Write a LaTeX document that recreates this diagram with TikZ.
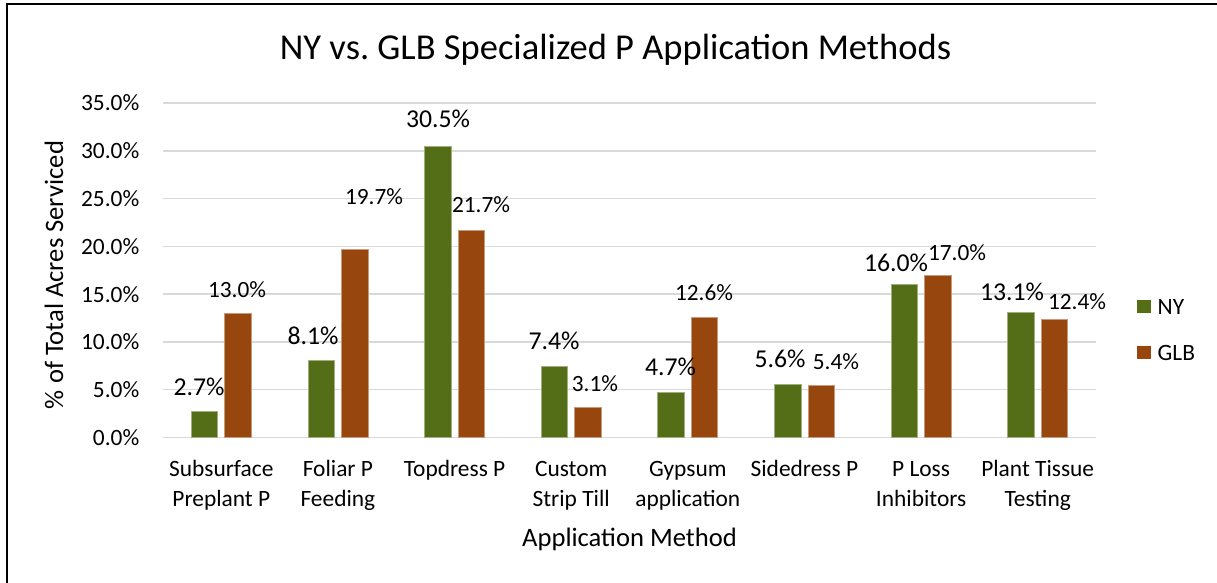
\documentclass[tikz,border=0pt]{standalone}
\usepackage{fontspec}
\setmainfont{Carlito}
\frenchspacing
\definecolor{nygreen}{RGB}{84,109,23}
\definecolor{glbbrown}{RGB}{151,71,13}
\definecolor{gridgray}{RGB}{217,217,217}
\tikzset{
  gridline/.style={draw=gridgray, line width=1.5pt},
  nybar/.style={fill=nygreen, draw=nygreen!55!white, line width=0.8pt},
  glbbar/.style={fill=glbbrown, draw=glbbrown!55!white, line width=0.8pt},
  ticklabel/.style={inner sep=0pt, anchor=east, font=\fontsize{23.4}{28}\selectfont},
  nylabel/.style={inner sep=0pt, anchor=center, font=\fontsize{25.7}{30}\selectfont},
  glblabel/.style={inner sep=0pt, anchor=center, font=\fontsize{23.3}{28}\selectfont},
  catlabel/.style={inner sep=0pt, anchor=base, font=\fontsize{23.4}{29.3}\selectfont},
  axistitle/.style={inner sep=0pt, anchor=base, font=\fontsize{26.6}{32}\selectfont},
  charttitle/.style={inner sep=0pt, anchor=base, font=\fontsize{36.5}{44}\selectfont},
  legendtext/.style={inner sep=0pt, anchor=base west, font=\fontsize{23.4}{28}\selectfont},
}
\newcommand{\twoline}[2]{\begin{tabular}[t]{@{}c@{}}#1\\#2\end{tabular}}
\begin{document}
\begin{tikzpicture}[x=1pt,y=-1pt]
\useasboundingbox (0,0) rectangle (1217,583);
\fill[white] (0,0) rectangle (1217,583);
\draw[line width=2pt] (6.7,4.3) rectangle (1240,610);

% gridlines and tick labels
\foreach \v in {0,...,7}{
  \pgfmathsetmacro{\yy}{437.5-47.786*\v}
  \pgfmathtruncatemacro{\pp}{5*\v}
  \draw[gridline] (163,\yy) -- (1096,\yy);
  \node[ticklabel] (tick\v) at (139.5,\yy) {\pp.0\%};
}

% bars
\foreach \i/\ny/\glb in {0/2.7/13.0,1/8.1/19.7,2/30.5/21.7,3/7.4/3.1,4/4.7/12.6,5/5.6/5.4,6/16.0/17.0,7/13.1/12.4}{
  \pgfmathsetmacro{\cx}{163+116.625*(\i+0.5)}
  \pgfmathsetmacro{\hny}{437.5-9.5571*\ny}
  \pgfmathsetmacro{\hglb}{437.5-9.5571*\glb}
  \draw[nybar] (\cx-30,437.5) rectangle (\cx-3.5,\hny);
  \draw[glbbar] (\cx+3.5,437.5) rectangle (\cx+30,\hglb);
}

% data labels
\node[nylabel] (ny0) at (199,386.7) {2.7\%};
\node[nylabel] (ny1) at (313,336) {8.1\%};
\node[nylabel] (ny2) at (438,119) {30.5\%};
\node[nylabel] (ny3) at (554,341) {7.4\%};
\node[nylabel] (ny4) at (670.5,366.7) {4.7\%};
\node[nylabel] (ny5) at (780,359.3) {5.6\%};
\node[nylabel] (ny6) at (896,263.3) {16.0\%};
\node[nylabel] (ny7) at (1012,291.7) {13.1\%};
\node[glblabel] (glb0) at (237,289.3) {13.0\%};
\node[glblabel] (glb1) at (374,197) {19.7\%};
\node[glblabel] (glb2) at (481,205) {21.7\%};
\node[glblabel] (glb3) at (595,384) {3.1\%};
\node[glblabel] (glb4) at (704,292.7) {12.6\%};
\node[glblabel] (glb5) at (836,361.7) {5.4\%};
\node[glblabel] (glb6) at (957,253) {17.0\%};
\node[glblabel] (glb7) at (1077,302) {12.4\%};

% category labels
\node[catlabel] (cat0) at (221.3,476.8) {\twoline{Subsurface}{Preplant P}};
\node[catlabel] (cat1) at (337.9,476.8) {\twoline{Foliar P}{Feeding}};
\node[catlabel] (cat2) at (454.6,476.8) {Topdress P};
\node[catlabel] (cat3) at (571.2,476.8) {\twoline{Custom}{Strip Till}};
\node[catlabel] (cat4) at (687.8,476.8) {\twoline{Gypsum}{application}};
\node[catlabel] (cat5) at (804.4,476.8) {Sidedress P};
\node[catlabel] (cat6) at (921.1,476.8) {\twoline{P Loss}{Inhibitors}};
\node[catlabel] (cat7) at (1037.7,476.8) {\twoline{Plant Tissue}{Testing}};

% titles
\node[charttitle] (title) at (615.5,60) {NY vs. GLB Specialized P Application Methods};
\node[axistitle] (xtitle) at (629.5,546) {Application Method};
\node[axistitle, rotate=90] (ytitle) at (63,275) {\% of Total Acres Serviced};

% legend
\fill[nygreen] (1137,300) rectangle (1151,313.3);
\fill[glbbrown] (1137,346) rectangle (1151,359.3);
\node[legendtext] (legny) at (1157.5,314.2) {NY};
\node[legendtext] (legglb) at (1157.5,360.2) {GLB};
\end{tikzpicture}
\end{document}
